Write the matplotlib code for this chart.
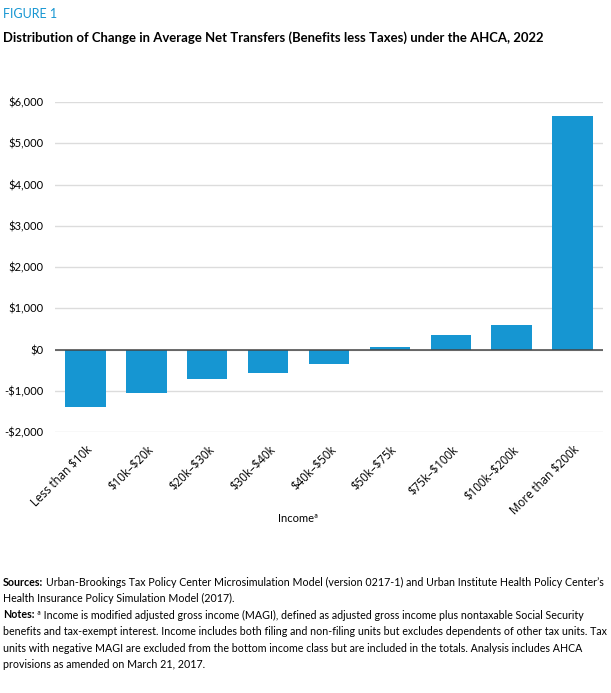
import matplotlib
matplotlib.use("Agg")
import matplotlib.pyplot as plt
from matplotlib.ticker import FuncFormatter

categories = ["Less than $10k", "$10k–$20k", "$20k–$30k", "$30k–$40k", "$40k–$50k",
              "$50k–$75k", "$75k–$100k", "$100k–$200k", "More than $200k"]
values = [-1400, -1050, -720, -580, -345, 50, 360, 585, 5650]
yticks = [-2000, -1000, 0, 1000, 2000, 3000, 4000, 5000, 6000]

BLUE = "#1696d2"
FONT = "Lato"
plt.rcParams["font.family"] = [FONT, "DejaVu Sans"]

W, H = 611, 693
fig = plt.figure(figsize=(W / 100, H / 100), dpi=100)
ax = fig.add_axes([55 / W, 1 - 432 / H, (603 - 55) / W, (432 - 102) / H])

x = list(range(len(categories)))
ax.bar(x, values, width=0.665, color=BLUE, zorder=3)
ax.set_xlim(-0.5, len(categories) - 0.5)
ax.set_ylim(-2000, 6000)
ax.set_yticks(yticks)

def fmt(v, pos):
    v = int(v)
    return ("-\\$" if v < 0 else "\\$") + f"{abs(v):,}"

ax.yaxis.set_major_formatter(FuncFormatter(fmt))
ax.grid(axis="y", color="#dcdcdc", linewidth=1, zorder=0)
ax.axhline(0, color="#444444", linewidth=1.1, zorder=4)
for s in ax.spines.values():
    s.set_visible(False)
ax.tick_params(axis="both", length=0, colors="#000000")
ax.tick_params(axis="y", pad=8, labelsize=8)
ax.set_xticks(x)
ax.set_xticklabels([c.replace("$", "\\$") for c in categories], rotation=45, ha="right",
                   rotation_mode="anchor", fontsize=8.3, family=["Open Sans", "DejaVu Sans"])
ax.tick_params(axis="x", pad=8)

fig.text(298 / W, 1 - 519 / H, "Incomeª", fontsize=8, va="center", ha="center")

fig.text(3 / W, 1 - 14 / H, "FIGURE 1", color=BLUE, fontsize=9, va="center", ha="left")
fig.text(3 / W, 1 - 38 / H, "Distribution of Change in Average Net Transfers (Benefits less Taxes) under the AHCA, 2022",
         fontsize=9.45, fontweight="bold", va="center", ha="left")

fig.canvas.draw()
renderer = fig.canvas.get_renderer()

def line(y, bold, rest, fs=7.65):
    xpos = 3 / W
    if bold:
        t = fig.text(xpos, 1 - y / H, bold, fontsize=fs, fontweight="bold", va="center", ha="left")
        bb = t.get_window_extent(renderer)
        xpos = bb.x1 / W + 2.5 / W
    fig.text(xpos, 1 - y / H, rest, fontsize=fs, va="center", ha="left")

line(582, "Sources:", "Urban-Brookings Tax Policy Center Microsimulation Model (version 0217-1) and Urban Institute Health Policy Center’s")
line(598.5, None, "Health Insurance Policy Simulation Model (2017).")
line(615, "Notes:", "ª Income is modified adjusted gross income (MAGI), defined as adjusted gross income plus nontaxable Social Security")
line(631.5, None, "benefits and tax-exempt interest. Income includes both filing and non-filing units but excludes dependents of other tax units. Tax")
line(648, None, "units with negative MAGI are excluded from the bottom income class but are included in the totals. Analysis includes AHCA")
line(664, None, "provisions as amended on March 21, 2017.")

fig.savefig("out.png", dpi=100)
